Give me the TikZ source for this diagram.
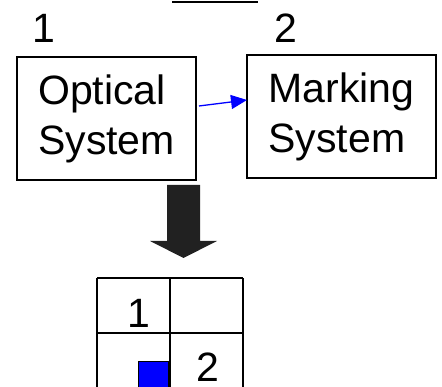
\documentclass[tikz,border=0pt]{standalone}
\usepackage{fontspec}
\setmainfont{Liberation Sans}
\usetikzlibrary{arrows.meta}

\begin{document}
\begin{tikzpicture}[x=1pt,y=1pt,
  every node/.style={font=\fontsize{41}{50}\selectfont, inner sep=0pt, outer sep=0pt},
  sysbox/.style={draw, line width=1.3pt, align=left, minimum height=123pt},
  flow/.style={blue, line width=1.3pt, -{Triangle[length=16pt,width=14pt]}}]
\useasboundingbox (0,0) rectangle (442,387);
\clip (0,0) rectangle (442,387);

\draw[line width=2pt] (172,384.5) -- (258,384.5);

% the two systems
\node at (44,359) (num1) {1};
\node at (286,359) (num2) {2};
\node[sysbox, minimum width=179pt] (optic) at (106.5,268.5) {Optical\\System};
\node[sysbox, minimum width=189pt] (marker) at (341.5,270.5) {Marking\\System};
\draw[flow] ([shift={(3,12.5)}]optic.east) -- ([yshift=16.5]marker.west);

% big arrow down
\fill[black!87] (167,202) -- (200,202) -- (200,146) -- (217,146)
  -- (183.5,129) -- (150,146) -- (167,146) -- cycle;

% the cells
\node at (139,74) (cell1) {1};
\node at (207.5,20) (cell2) {2};
\node[draw, fill=blue, line width=1pt, minimum size=30pt] (spot) at (153,10) {};
\begin{scope}[shift={(97,-1)}]
\draw[line width=1.3pt] (0,0) grid[xstep=73,ystep=55] (146,110);
\end{scope}
\end{tikzpicture}
\end{document}
